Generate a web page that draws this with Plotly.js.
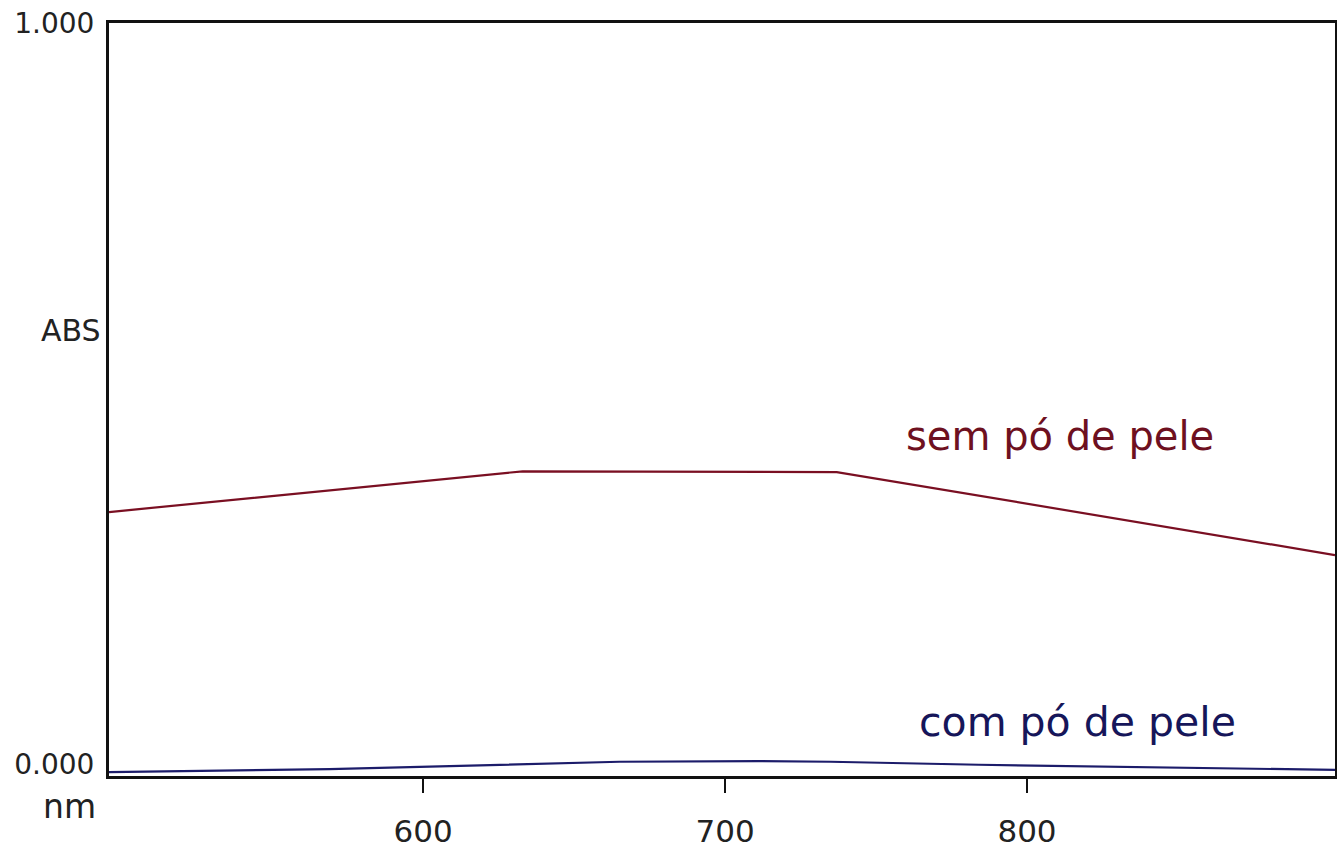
<!DOCTYPE html>
<html>
<head>
<meta charset="utf-8">
<script src="https://cdn.plot.ly/plotly-3.0.1.min.js"></script>
<style>html,body{margin:0;padding:0;background:#fff;}#chart{width:1337px;height:856px;}</style>
</head>
<body>
<div id="chart"></div>
<script>
// Wavelength (nm) and absorbance
const semPoNm  = [496, 633, 737, 902];
const semPoAbs = [0.340, 0.395, 0.394, 0.282];
const comPoNm  = [496, 569, 665, 711, 735, 784, 902];
const comPoAbs = [-0.011, -0.007, 0.003, 0.004, 0.003, -0.001, -0.008];
const xTicks = [600, 700, 800];
const yTicks = [0, 1];
const yTickText = ['0.000', '1.000'];
const seriesNames = ['sem pó de pele', 'com pó de pele'];

const FONT = 'DejaVu Sans, sans-serif';

const traces = [
  {x: semPoNm, y: semPoAbs, mode: 'lines', name: seriesNames[0],
   line: {color: '#7a0f22', width: 2.2}, hoverinfo: 'skip'},
  {x: comPoNm, y: comPoAbs, mode: 'lines', name: seriesNames[1],
   line: {color: '#1c1c6a', width: 2.2}, hoverinfo: 'skip'}
];

const layout = {
  width: 1337, height: 856,
  margin: {l: 109, r: 2, t: 23, b: 80},
  paper_bgcolor: '#ffffff', plot_bgcolor: '#ffffff',
  showlegend: false,
  xaxis: {
    range: [496, 902], tickvals: xTicks, ticks: 'outside', ticklen: 14, tickwidth: 2.5,
    tickcolor: '#111', showgrid: false, zeroline: false,
    showline: true, mirror: true, linecolor: '#111', linewidth: 3,
    tickfont: {family: FONT, size: 31, color: '#222'}, ticklabelstandoff: 12
  },
  yaxis: {
    range: [-0.0162, 1.0], tickvals: yTicks, ticktext: yTickText, ticks: '',
    showgrid: false, zeroline: false,
    showline: true, mirror: true, linecolor: '#111', linewidth: 3,
    tickfont: {family: FONT, size: 28, color: '#222'}, ticklabelstandoff: 6
  },
  annotations: [
    {text: seriesNames[0], xref: 'paper', yref: 'paper', x: 0.776, y: 0.4515,
     xanchor: 'center', yanchor: 'middle', showarrow: false,
     font: {family: FONT, size: 40, color: '#6e1020'}},
    {text: seriesNames[1], xref: 'paper', yref: 'paper', x: 0.790, y: 0.0717,
     xanchor: 'center', yanchor: 'middle', showarrow: false,
     font: {family: FONT, size: 41, color: '#16165a'}},
    {text: 'ABS', xref: 'paper', yref: 'paper', x: -0.005, y: 0.592,
     xanchor: 'right', yanchor: 'middle', showarrow: false,
     font: {family: FONT, size: 30, color: '#222'}},
    {text: 'nm', xref: 'paper', yref: 'paper', x: -0.032, y: -0.040,
     xanchor: 'center', yanchor: 'middle', showarrow: false,
     font: {family: FONT, size: 33, color: '#222'}}
  ]
};

Plotly.newPlot('chart', traces, layout, {displayModeBar: false, staticPlot: true});
</script>
</body>
</html>
